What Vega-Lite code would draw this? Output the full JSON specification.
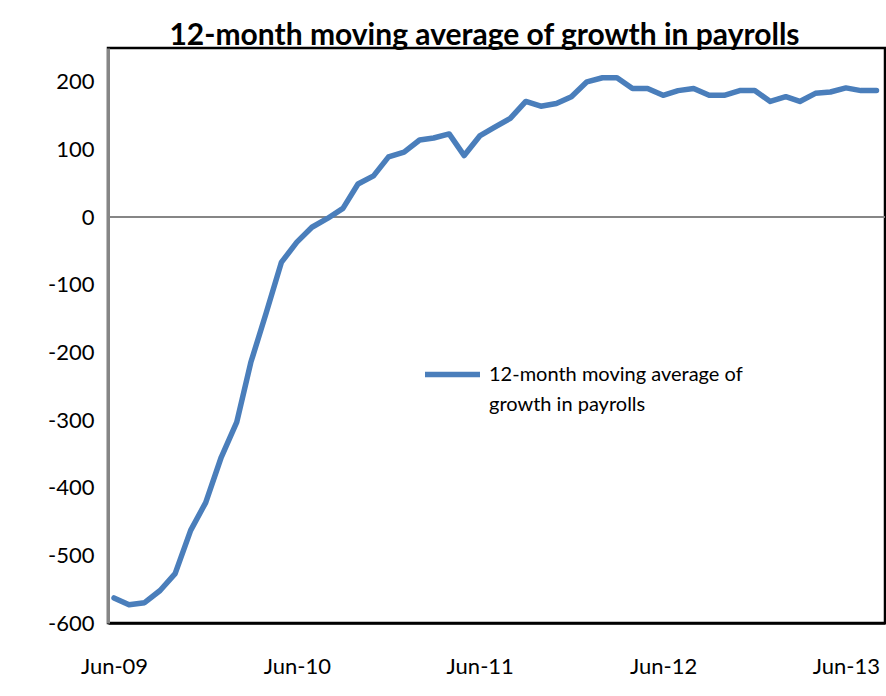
{
  "$schema": "https://vega.github.io/schema/vega-lite/v6.json",
  "width": 777,
  "height": 575,
  "autosize": "none",
  "padding": {"left": 108, "top": 48, "right": 1, "bottom": 73},
  "background": "white",
  "config": {
    "font": "Lato",
    "view": {"stroke": "black", "strokeWidth": 2.5},
    "style": {"guide-label": {"lineHeight": 30}}
  },
  "title": {
    "text": "12-month moving average of growth in payrolls",
    "font": "Lato",
    "fontSize": 30,
    "fontWeight": "bold",
    "color": "black",
    "anchor": "middle",
    "offset": -3,
    "dx": -12
  },
  "data": {
    "values": [
      {"month": "2009/06/01", "value": -563},
      {"month": "2009/07/01", "value": -573},
      {"month": "2009/08/01", "value": -570},
      {"month": "2009/09/01", "value": -552},
      {"month": "2009/10/01", "value": -527},
      {"month": "2009/11/01", "value": -463},
      {"month": "2009/12/01", "value": -422},
      {"month": "2010/01/01", "value": -355},
      {"month": "2010/02/01", "value": -303},
      {"month": "2010/03/01", "value": -215},
      {"month": "2010/04/01", "value": -141},
      {"month": "2010/05/01", "value": -67},
      {"month": "2010/06/01", "value": -37},
      {"month": "2010/07/01", "value": -15},
      {"month": "2010/08/01", "value": -2},
      {"month": "2010/09/01", "value": 13},
      {"month": "2010/10/01", "value": 49},
      {"month": "2010/11/01", "value": 61},
      {"month": "2010/12/01", "value": 89},
      {"month": "2011/01/01", "value": 96},
      {"month": "2011/02/01", "value": 114},
      {"month": "2011/03/01", "value": 117},
      {"month": "2011/04/01", "value": 123},
      {"month": "2011/05/01", "value": 91},
      {"month": "2011/06/01", "value": 120},
      {"month": "2011/07/01", "value": 133},
      {"month": "2011/08/01", "value": 146},
      {"month": "2011/09/01", "value": 171},
      {"month": "2011/10/01", "value": 164},
      {"month": "2011/11/01", "value": 168},
      {"month": "2011/12/01", "value": 178},
      {"month": "2012/01/01", "value": 200},
      {"month": "2012/02/01", "value": 206},
      {"month": "2012/03/01", "value": 206},
      {"month": "2012/04/01", "value": 190},
      {"month": "2012/05/01", "value": 190},
      {"month": "2012/06/01", "value": 180},
      {"month": "2012/07/01", "value": 187},
      {"month": "2012/08/01", "value": 190},
      {"month": "2012/09/01", "value": 180},
      {"month": "2012/10/01", "value": 180},
      {"month": "2012/11/01", "value": 187},
      {"month": "2012/12/01", "value": 187},
      {"month": "2013/01/01", "value": 171},
      {"month": "2013/02/01", "value": 178},
      {"month": "2013/03/01", "value": 171},
      {"month": "2013/04/01", "value": 183},
      {"month": "2013/05/01", "value": 185},
      {"month": "2013/06/01", "value": 191},
      {"month": "2013/07/01", "value": 187},
      {"month": "2013/08/01", "value": 187}
    ]
  },
  "layer": [
    {
      "mark": {"type": "rule", "color": "#868686", "strokeWidth": 2},
      "encoding": {"y": {"datum": 0, "type": "quantitative"}}
    },
    {
      "mark": {"type": "line", "strokeWidth": 5.5, "strokeJoin": "round", "strokeCap": "round"},
      "encoding": {
        "x": {
          "field": "month",
          "type": "temporal",
          "scale": {
            "domain": [
              {"year": 2009, "month": 5, "date": 20},
              {"year": 2013, "month": 8, "date": 18}
            ]
          },
          "axis": {
            "title": null,
            "values": [
              {"year": 2009, "month": 6, "date": 1},
              {"year": 2010, "month": 6, "date": 1},
              {"year": 2011, "month": 6, "date": 1},
              {"year": 2012, "month": 6, "date": 1},
              {"year": 2013, "month": 6, "date": 1}
            ],
            "format": "%b-%y",
            "grid": false,
            "ticks": false,
            "domain": true,
            "domainColor": "black",
            "domainWidth": 2.5,
            "labelFont": "Lato",
            "labelFontSize": 22,
            "labelColor": "black",
            "labelPadding": 33,
            "labelFlush": false,
            "labelOverlap": false
          }
        },
        "y": {
          "field": "value",
          "type": "quantitative",
          "scale": {"domain": [-600, 250], "nice": false, "zero": false},
          "axis": {
            "title": null,
            "values": [-600, -500, -400, -300, -200, -100, 0, 100, 200],
            "labelExpr": "datum.value < 0 ? '-' + abs(datum.value) : '' + datum.value",
            "grid": false,
            "ticks": false,
            "domain": true,
            "domainColor": "#868686",
            "domainWidth": 3,
            "labelFont": "Lato",
            "labelFontSize": 22,
            "labelColor": "black",
            "labelPadding": 14
          }
        },
        "color": {
          "datum": "12-month moving average of growth in payrolls",
          "type": "nominal",
          "scale": {"range": ["#4a7ebb"]},
          "legend": {
            "title": null,
            "orient": "none",
            "legendX": 314,
            "legendY": 296,
            "symbolType": "stroke",
            "symbolStrokeWidth": 5.5,
            "symbolSize": 3025,
            "labelFont": "Lato",
            "labelFontSize": 20,
            "labelColor": "black",
            "labelLimit": 500,
            "labelBaseline": "middle",
            "labelOffset": 6,
            "labelExpr": "['12-month moving average of', 'growth in payrolls']"
          }
        }
      }
    }
  ]
}
